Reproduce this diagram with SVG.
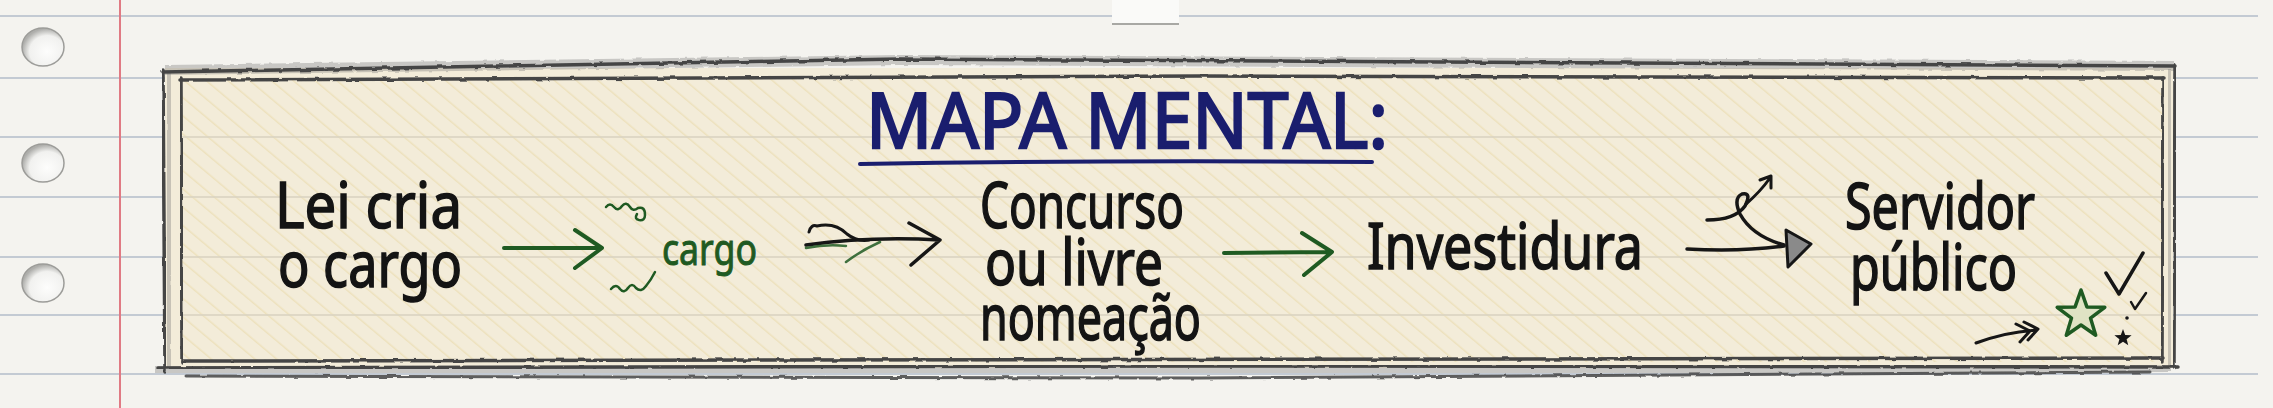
<svg xmlns="http://www.w3.org/2000/svg" width="2273" height="408" viewBox="0 0 2273 408">
<defs>
<style>
.rule{stroke:#c3cad3;stroke-width:2;fill:none}
.rulein{stroke:#d9d3c0;stroke-width:2;fill:none;opacity:.8}
.pen{stroke:#454545;stroke-width:3.5;fill:none;stroke-linecap:round;filter:url(#rough)}
.shade{stroke:#777;stroke-width:10;fill:none;opacity:.35;filter:url(#rough)}
.t{font-family:"Noto Sans","Open Sans",sans-serif;fill:#141414;stroke:#141414;stroke-width:1.6;font-size:64px}
.g{stroke:#1f5a22;stroke-width:4;fill:none;stroke-linecap:round;stroke-linejoin:round}
.k{stroke:#161616;stroke-width:3.5;fill:none;stroke-linecap:round;stroke-linejoin:round}
</style>
<filter id="rough" x="-5%" y="-50%" width="110%" height="200%">
<feTurbulence type="fractalNoise" baseFrequency="0.09" numOctaves="2" seed="4"/>
<feDisplacementMap in="SourceGraphic" scale="3"/>
</filter>
<pattern id="hatch" width="14" height="14" patternUnits="userSpaceOnUse" patternTransform="rotate(-50)">
<line x1="0" y1="0" x2="0" y2="14" stroke="#e2cf90" stroke-width="3" opacity=".4"/>
</pattern>
<radialGradient id="hole" cx="60%" cy="62%" r="60%">
<stop offset="0" stop-color="#fdfdfc"/>
<stop offset=".7" stop-color="#f1f1ef"/>
<stop offset="1" stop-color="#aeaeab"/>
</radialGradient>
</defs>

<!-- paper -->
<rect width="2273" height="408" fill="#f4f3ef"/>
<g id="ruling">
<path class="rule" d="M0,16H2258M0,78H2258M0,137H2258M0,197H2258M0,257H2258M0,315H2258M0,374H2258"/>
<line x1="120" y1="0" x2="120" y2="408" stroke="#e07a84" stroke-width="2"/>
</g>
<g id="holes">
<ellipse cx="43" cy="47" rx="21" ry="19" fill="url(#hole)" stroke="#9c9c99" stroke-width="1.5"/>
<ellipse cx="43" cy="163" rx="21" ry="19" fill="url(#hole)" stroke="#9c9c99" stroke-width="1.5"/>
<ellipse cx="43" cy="283" rx="21" ry="19" fill="url(#hole)" stroke="#9c9c99" stroke-width="1.5"/>
</g>
<g id="tape">
<rect x="1112" y="0" width="67" height="24" fill="#fafaf8"/>
<line x1="1112" y1="24" x2="1179" y2="24" stroke="#a8a8a4" stroke-width="2"/>
</g>

<!-- frame -->
<g id="frame">
<rect x="165" y="68" width="2008" height="300" fill="#f3ecd9"/>
<rect x="182" y="78" width="1980" height="284" fill="url(#hatch)"/>
<path class="rulein" d="M182,137H2162M182,197H2162M182,257H2162M182,315H2162"/>
<path class="shade" d="M165,70 L900,60 L2175,66"/>
<path class="shade" d="M155,371 L1200,370 L2172,367"/>
<path class="shade" d="M170,72 L168,368" style="stroke-width:6"/>
<path class="shade" d="M2170,70 L2169,366" style="stroke-width:6"/>
<path class="pen" d="M163,72 L900,59 L2175,66"/>
<path class="pen" d="M180,80 L1200,76 L2164,78"/>
<path class="pen" d="M163,70 L165,372"/>
<path class="pen" d="M181,78 L182,362"/>
<path class="pen" d="M2175,66 L2174,368"/>
<path class="pen" d="M2163,78 L2162,362"/>
<path class="pen" d="M158,368 L1200,366 L2178,367"/>
<path class="pen" d="M182,361 L2163,358"/>
<path class="pen" d="M186,376 L1200,378 L2150,372" style="stroke-width:3;opacity:.85"/>
</g>

<!-- title -->
<g id="title">
<text x="866" y="148" font-family="'Noto Sans','Open Sans',sans-serif" font-size="77" fill="#1a1e6e" stroke="#1a1e6e" stroke-width="2.4" textLength="522" lengthAdjust="spacingAndGlyphs">MAPA MENTAL:</text>
<path d="M860,164 Q1100,160 1372,162" stroke="#1a1e6e" stroke-width="4" fill="none" stroke-linecap="round"/>
</g>

<!-- nodes -->
<g id="node-lei">
<text class="t" x="275" y="228" textLength="187" lengthAdjust="spacingAndGlyphs">Lei cria</text>
<text class="t" x="278" y="287" textLength="184" lengthAdjust="spacingAndGlyphs">o cargo</text>
</g>
<g id="node-cargo">
<text x="662" y="265" font-family="'Noto Sans','Open Sans',sans-serif" font-size="44" fill="#1f5a22" stroke="#1f5a22" stroke-width="1" textLength="95" lengthAdjust="spacingAndGlyphs">cargo</text>
<path class="g" style="stroke-width:2.5" d="M606,207 q4,-5 8,0 q4,5 8,-1 q4,-5 8,1 q3,5 8,1 q7,-2 7,7 q0,6 -6,5 q-5,-1 -2,-6"/>
<path class="g" style="stroke-width:2.5" d="M611,289 q5,-6 9,0 q4,5 8,-1 q4,-6 8,0 q5,5 10,-2 q5,-6 9,-14"/>
</g>
<g id="node-concurso">
<text class="t" x="980" y="228" textLength="204" lengthAdjust="spacingAndGlyphs">Concurso</text>
<text class="t" x="985" y="285" textLength="178" lengthAdjust="spacingAndGlyphs">ou livre</text>
<text class="t" x="980" y="340" textLength="221" lengthAdjust="spacingAndGlyphs">nomeação</text>
</g>
<g id="node-investidura">
<text class="t" x="1367" y="269" font-size="61" textLength="276" lengthAdjust="spacingAndGlyphs">Investidura</text>
</g>
<g id="node-servidor">
<text class="t" x="1845" y="229" textLength="190" lengthAdjust="spacingAndGlyphs">Servidor</text>
<text class="t" x="1850" y="290" textLength="167" lengthAdjust="spacingAndGlyphs">público</text>
</g>
<g id="decor">
<path class="k" style="stroke-width:3" d="M1976,343 Q2005,332 2036,330 M2024,322 L2038,329 L2028,340 M2016,324 L2030,331 L2020,342"/>
<polygon points="2081,290 2086.9,306.9 2104.8,307.3 2090.5,318.1 2095.7,335.2 2081,325 2066.3,335.2 2071.5,318.1 2057.2,307.3 2075.1,306.9" fill="#dfe3c4" stroke="#1f5a22" stroke-width="3.5" stroke-linejoin="round"/>
<path class="k" d="M2106,273 L2119,294 L2143,253"/>
<path class="k" style="stroke-width:2.5" d="M2131,302 L2135,309 L2146,293"/>
<circle cx="2127" cy="318" r="1.8" fill="#161616"/>
<polygon points="2123,329 2125.2,334.9 2131.6,335.2 2126.6,339.2 2128.3,345.3 2123,341.8 2117.7,345.3 2119.4,339.2 2114.4,335.2 2120.8,334.9" fill="#161616"/>
</g>

<!-- connectors -->
<g id="connectors">
<path class="g" d="M504,248 L601,248 M575,230 L602,248 L575,268"/>
<path class="k" d="M806,245 Q870,236 940,240 M909,223 L940,240 L911,265"/>
<path class="k" style="stroke-width:3" d="M809,232 q2,-8 8,-6 q18,-4 30,8 q10,8 22,6"/>
<path class="g" style="stroke-width:2.5;opacity:.85" d="M846,262 Q862,250 880,242 M806,248 q20,-4 40,-2"/>
<path class="g" d="M1224,253 L1331,252 M1302,233 L1332,252 L1304,275"/>
<path class="k" d="M1687,249 Q1740,252 1784,246"/>
<path class="k" d="M1707,220 Q1735,220 1745,206 Q1752,192 1742,194 Q1733,198 1740,214 Q1752,236 1784,245"/>
<path class="k" style="stroke-width:3" d="M1746,204 Q1760,192 1770,178 M1760,180 L1771,176 L1771,188"/>
<polygon points="1786,230 1811,244 1788,267" fill="#8a8a8a" stroke="#161616" stroke-width="3" stroke-linejoin="round"/>
</g>
</svg>
